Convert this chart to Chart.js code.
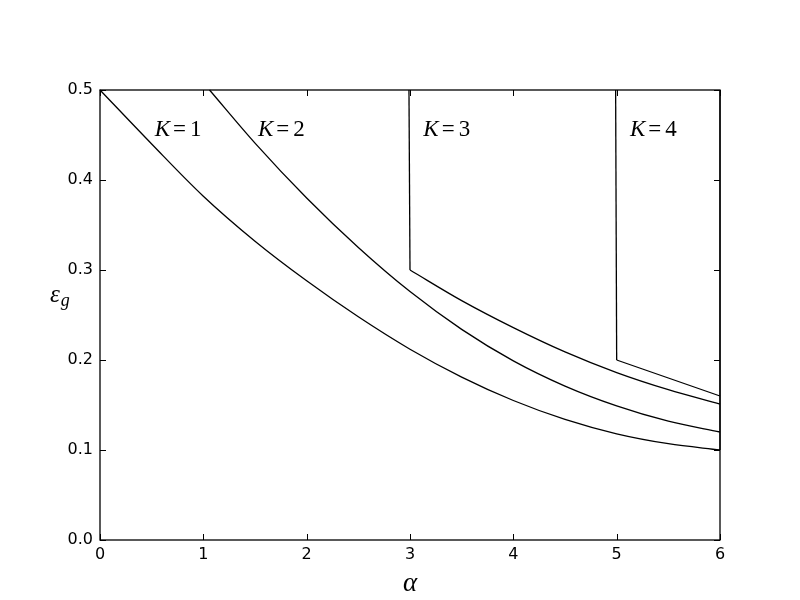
<!DOCTYPE html>
<html>
<head>
<meta charset="utf-8">
<script src="https://cdn.jsdelivr.net/npm/chart.js@4/dist/chart.umd.min.js"></script>
<style>
  html, body { margin: 0; padding: 0; background: #fff; }
  #wrap { width: 800px; height: 600px; }
</style>
</head>
<body>
<div id="wrap"><canvas id="chart" width="800" height="600"></canvas></div>
<script>
// boundary curves eps_g(alpha)
const alphaK1 = [0, 0.5, 1, 1.5, 2, 2.5, 3, 3.5, 4, 4.5, 5, 5.5, 6];
const epsK1   = [0.5, 0.440, 0.382, 0.332, 0.288, 0.248, 0.212, 0.181, 0.155, 0.134, 0.118, 0.107, 0.100];

const alphaK2 = [1.06, 1.5, 2, 2.5, 3, 3.5, 4, 4.5, 5, 5.5, 6];
const epsK2   = [0.5, 0.441, 0.380, 0.325, 0.276, 0.234, 0.199, 0.171, 0.149, 0.132, 0.120];

const alphaK3 = [3, 3.5, 4, 4.5, 5, 5.5, 6];
const epsK3   = [0.300, 0.266, 0.236, 0.209, 0.186, 0.167, 0.151];

const alphaK4 = [5, 5.5, 6];
const epsK4   = [0.200, 0.180, 0.160];

// straight vertical pieces: jumps at alpha=3 and alpha=5, closing edge at alpha=6
const stepAlpha = [[2.99, 3], [4.99, 5], [6, 6]];
const stepEps   = [[0.5, 0.3], [0.5, 0.2], [0.1, 0.5]];

// region labels "K = n"
const labelText  = ["1", "2", "3", "4"];
const labelAlpha = [0.5, 1.5, 3.1, 5.1];
const labelEps   = [0.45, 0.45, 0.45, 0.45];

const xTicks = [0, 1, 2, 3, 4, 5, 6];
const yTicks = [0.0, 0.1, 0.2, 0.3, 0.4, 0.5];

const pts = (xs, ys) => xs.map((x, i) => ({ x, y: ys[i] }));

const curve = (xs, ys) => ({
  data: pts(xs, ys),
  showLine: true,
  borderColor: "#000",
  borderWidth: 1.3,
  pointRadius: 0,
  cubicInterpolationMode: "monotone",
  clip: false
});

const straight = (xs, ys) => ({
  data: pts(xs, ys),
  showLine: true,
  borderColor: "#000",
  borderWidth: 1.3,
  pointRadius: 0,
  tension: 0,
  clip: false
});

const datasets = [
  curve(alphaK1, epsK1),
  curve(alphaK2, epsK2),
  curve(alphaK3, epsK3),
  curve(alphaK4, epsK4),
  ...stepAlpha.map((xs, i) => straight(xs, stepEps[i]))
];

// matplotlib-classic look: box frame, inward ticks on all sides, text labels
const frame = {
  id: "frame",
  afterDatasetsDraw(chart){
    const { ctx, chartArea: a, scales: { x, y } } = chart;
    ctx.save();
    ctx.strokeStyle = "#000";
    ctx.lineWidth = 1;
    ctx.beginPath();
    for (const v of xTicks){
      const px = Math.round(x.getPixelForValue(v)) + 0.5;
      ctx.moveTo(px, a.bottom); ctx.lineTo(px, a.bottom - 6);
      ctx.moveTo(px, a.top);    ctx.lineTo(px, a.top + 6);
    }
    for (const v of yTicks){
      const py = Math.round(y.getPixelForValue(v)) + 0.5;
      ctx.moveTo(a.left, py);  ctx.lineTo(a.left + 6, py);
      ctx.moveTo(a.right, py); ctx.lineTo(a.right - 6, py);
    }
    ctx.stroke();

    ctx.lineWidth = 1.3;
    ctx.strokeRect(a.left, a.top, a.right - a.left, a.bottom - a.top);

    ctx.fillStyle = "#000";
    ctx.textBaseline = "alphabetic";
    ctx.textAlign = "left";
    labelText.forEach((t, i) => {
      let px = x.getPixelForValue(labelAlpha[i]) + 3;
      const py = y.getPixelForValue(labelEps[i]) + 1;
      ctx.font = "italic 23px 'Liberation Serif'";
      ctx.fillText("K", px, py);
      px += ctx.measureText("K").width + 3;
      ctx.font = "23px 'Liberation Serif'";
      ctx.fillText("=", px, py);
      px += ctx.measureText("=").width + 4;
      ctx.fillText(t, px, py);
    });

    // y axis label, horizontal: epsilon with subscript g
    ctx.font = "italic 25px 'Liberation Serif'";
    ctx.fillText("\u03b5", a.left - 50, 302);
    const w = ctx.measureText("\u03b5").width;
    ctx.font = "italic 18px 'Liberation Serif'";
    ctx.fillText("g", a.left - 50 + w + 1, 306);
    ctx.restore();
  }
};

new Chart(document.getElementById("chart"), {
  type: "scatter",
  data: { datasets },
  options: {
    responsive: false,
    animation: false,
    events: [],
    layout: { padding: { top: 90, right: 80, left: 0, bottom: 0 } },
    plugins: { legend: { display: false }, tooltip: { enabled: false } },
    scales: {
      x: {
        type: "linear",
        min: 0,
        max: 6,
        afterBuildTicks: s => { s.ticks = xTicks.map(v => ({ value: v })); },
        afterFit: s => { s.height = 60; },
        grid: { display: false, drawTicks: false },
        border: { display: false },
        ticks: { color: "#000", padding: 5, maxRotation: 0, font: { family: "DejaVu Sans", size: 16 } },
        title: {
          display: true,
          text: "\u03b1",
          color: "#000",
          padding: { top: 0, bottom: 0 },
          font: { family: "Liberation Serif", size: 27, style: "italic" }
        }
      },
      y: {
        type: "linear",
        min: 0,
        max: 0.5,
        afterBuildTicks: s => { s.ticks = yTicks.map(v => ({ value: v })); },
        afterFit: s => { s.width = 100; },
        grid: { display: false, drawTicks: false },
        border: { display: false },
        ticks: {
          color: "#000",
          padding: 7,
          font: { family: "DejaVu Sans", size: 16 },
          callback: v => Number(v).toFixed(1)
        }
      }
    }
  },
  plugins: [frame]
});
</script>
</body>
</html>
